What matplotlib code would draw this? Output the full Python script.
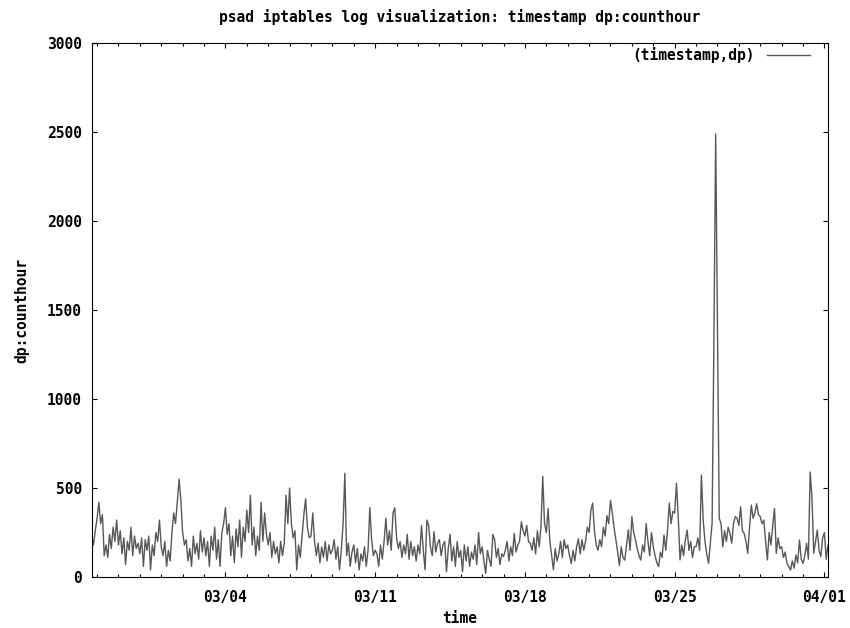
import matplotlib
matplotlib.use('Agg')
import matplotlib.pyplot as plt
import matplotlib.dates as mdates
import pandas as pd

start = '2009-02-25 18:00'
step = '2h'
x_end = '2009-04-01 04:00'

counts = [
    230, 180, 260,                                              # 02/25 18h-22h
    330, 420, 300, 350, 120, 180, 110, 240, 160, 280, 200, 320,  # 02/26
    180, 260, 130, 220, 70, 200, 150, 280, 120, 230, 160, 190,   # 02/27
    130, 220, 60, 210, 150, 230, 40, 180, 120, 250, 200, 320,    # 02/28
    170, 120, 200, 60, 150, 90, 250, 360, 300, 420, 550, 430,    # 03/01
    250, 180, 210, 90, 160, 60, 230, 130, 190, 100, 260, 140,    # 03/02
    220, 120, 200, 60, 230, 150, 280, 100, 210, 60, 250, 300,    # 03/03
    390, 240, 300, 120, 230, 80, 270, 170, 320, 110, 280, 200,   # 03/04
    376, 250, 460, 180, 280, 120, 230, 150, 420, 200, 360, 240,  # 03/05
    180, 250, 110, 200, 130, 170, 80, 200, 120, 190, 460, 300,   # 03/06
    500, 300, 220, 260, 40, 180, 110, 230, 350, 440, 280, 220,   # 03/07
    230, 360, 200, 120, 190, 80, 170, 110, 200, 90, 180, 130,    # 03/08
    150, 210, 100, 170, 40, 150, 300, 583, 120, 190, 60, 140,    # 03/09
    180, 80, 160, 40, 130, 90, 170, 60, 150, 390, 210, 120,      # 03/10
    150, 130, 60, 180, 100, 200, 330, 180, 260, 150, 360, 390,   # 03/11
    220, 160, 200, 110, 180, 130, 240, 100, 200, 120, 170, 90,   # 03/12
    180, 130, 290, 150, 40, 320, 290, 170, 120, 255, 140, 190,   # 03/13
    210, 120, 180, 200, 30, 160, 240, 90, 170, 60, 200, 110,     # 03/14
    150, 30, 180, 90, 170, 60, 140, 100, 180, 70, 250, 130,      # 03/15
    170, 90, 20, 150, 100, 60, 240, 210, 110, 160, 70, 130,      # 03/16
    115, 150, 200, 90, 170, 120, 245, 140, 180, 200, 310, 260,   # 03/17
    230, 290, 200, 190, 150, 220, 130, 260, 170, 280, 565, 300,  # 03/18
    250, 385, 200, 120, 40, 160, 90, 130, 200, 110, 210, 160,    # 03/19
    180, 120, 75, 150, 90, 170, 215, 130, 210, 150, 200, 280,    # 03/20
    250, 376, 415, 260, 180, 150, 210, 170, 280, 230, 345, 300,  # 03/21
    430, 360, 280, 210, 140, 65, 170, 110, 95, 180, 265, 150,    # 03/22
    340, 250, 210, 160, 120, 95, 180, 140, 300, 200, 120, 250,   # 03/23
    170, 120, 80, 58, 140, 110, 236, 150, 264, 416, 300, 369,    # 03/24
    360, 527, 340, 96, 180, 120, 208, 264, 150, 200, 110, 170,   # 03/25
    170, 220, 150, 573, 320, 200, 130, 77, 190, 302, 1330, 2490, # 03/26
    1430, 330, 300, 170, 260, 200, 280, 245, 190, 300, 340, 330, # 03/27
    290, 395, 260, 245, 200, 133, 280, 404, 330, 360, 412, 350,  # 03/28
    340, 300, 320, 200, 96, 250, 180, 290, 385, 133, 220, 160,   # 03/29
    170, 110, 140, 77, 60, 39, 90, 50, 124, 80, 208, 100,        # 03/30
    77, 120, 189, 100, 590, 450, 133, 200, 264, 150, 115, 220,   # 03/31
    250, 100, 180,                                              # 04/01 0h-4h
]

tick_dates = ['2009-03-04', '2009-03-11', '2009-03-18', '2009-03-25', '2009-04-01']
tick_labels = ['03/04', '03/11', '03/18', '03/25', '04/01']
yticks = [0, 500, 1000, 1500, 2000, 2500, 3000]

times = pd.date_range(start, periods=len(counts), freq=step)

font = {'family': 'DejaVu Sans Mono', 'weight': 'bold', 'size': 10.5}

fig = plt.figure(figsize=(8.5, 6.28), dpi=100)
ax = fig.add_axes([0.1079, 0.0812, 0.8662, 0.8499])

ax.plot(times, counts, color='#585858', lw=1.0, label='(timestamp,dp)')

ax.set_xlim(pd.Timestamp(start), pd.Timestamp(x_end))
ax.set_ylim(0, 3000)

ax.set_xticks(pd.to_datetime(tick_dates))
ax.set_xticklabels(tick_labels, fontdict=font)
ax.xaxis.set_minor_locator(mdates.DayLocator())
ax.set_yticks(yticks)
ax.set_yticklabels([str(v) for v in yticks], fontdict=font)

ax.tick_params(which='both', direction='in', top=True, right=True, width=0.8, color='black')
ax.tick_params(which='major', length=3.8)
ax.tick_params(which='minor', length=2.2)
ax.tick_params(axis='x', which='major', pad=9)
ax.tick_params(axis='y', which='major', pad=7)
for s in ax.spines.values():
    s.set_linewidth(0.8)
    s.set_color('black')

ax.set_title('psad iptables log visualization: timestamp dp:counthour', fontdict=font, pad=15)
ax.set_xlabel('time', fontdict=font, labelpad=5)
ax.set_ylabel('dp:counthour', fontdict=font, labelpad=13)

ax.legend(loc='upper right', bbox_to_anchor=(0.9878, 1.0094), frameon=False,
          markerfirst=False, handlelength=3.0,
          prop={'family': 'DejaVu Sans Mono', 'weight': 'bold', 'size': 10.5},
          borderaxespad=0.2, handletextpad=0.8)

fig.savefig('out.png', dpi=100)
